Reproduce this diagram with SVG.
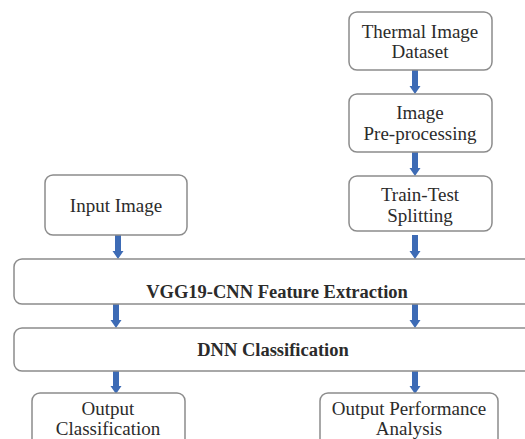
<svg xmlns="http://www.w3.org/2000/svg" width="525" height="439" viewBox="0 0 525 439">
  <style>
    .box { fill: #ffffff; stroke: #8c8c8c; stroke-width: 1.5; }
    .lbl { font-family: "Liberation Serif", "DejaVu Serif", serif; font-size: 19px; fill: #2b2b2b; text-anchor: middle; }
    .bold { font-weight: bold; font-size: 18.5px; }
    .arrow { fill: #3d6bb5; }
  </style>
  <defs>
    <!-- down arrow, tip at (0,0), length 24 -->
    <path id="down" d="M -3 -24 L 3 -24 L 3 -8 L 5.5 -8 L 0 0 L -5.5 -8 L -3 -8 Z"/>
  </defs>
  <rect width="525" height="439" fill="#ffffff"/>

  <g id="connectors" class="arrow">
    <use href="#down" x="415" y="94"/>
    <use href="#down" x="415" y="176"/>
    <use href="#down" x="415" y="259"/>
    <use href="#down" x="118" y="259"/>
    <use href="#down" x="116" y="328"/>
    <use href="#down" x="415" y="328"/>
    <use href="#down" x="116" y="394"/>
    <use href="#down" x="415" y="394"/>
  </g>

  <g id="thermal-dataset">
    <rect class="box" x="349" y="12" width="143" height="58" rx="8"/>
    <text class="lbl" x="420" y="38">Thermal Image</text>
    <text class="lbl" x="420" y="58">Dataset</text>
  </g>

  <g id="preprocessing">
    <rect class="box" x="349" y="94" width="143" height="58" rx="8"/>
    <text class="lbl" x="420" y="119">Image</text>
    <text class="lbl" x="420" y="140">Pre-processing</text>
  </g>

  <g id="train-test">
    <rect class="box" x="349" y="176" width="143" height="55" rx="8"/>
    <text class="lbl" x="420" y="201">Train-Test</text>
    <text class="lbl" x="420" y="222">Splitting</text>
  </g>

  <g id="input-image">
    <rect class="box" x="45" y="175" width="142" height="60" rx="8"/>
    <text class="lbl" x="116" y="212">Input Image</text>
  </g>

  <g id="vgg19">
    <rect class="box" x="14" y="259" width="530" height="45" rx="8"/>
    <text class="lbl bold" x="277" y="298">VGG19-CNN Feature Extraction</text>
  </g>

  <g id="dnn">
    <rect class="box" x="14" y="328" width="530" height="43" rx="8"/>
    <text class="lbl bold" x="273" y="356">DNN Classification</text>
  </g>

  <g id="output-classification">
    <rect class="box" x="32" y="393" width="153" height="60" rx="8"/>
    <text class="lbl" x="108" y="415">Output</text>
    <text class="lbl" x="108" y="435">Classification</text>
  </g>

  <g id="output-performance">
    <rect class="box" x="320" y="393" width="178" height="60" rx="8"/>
    <text class="lbl" x="409" y="415">Output Performance</text>
    <text class="lbl" x="409" y="435">Analysis</text>
  </g>
</svg>
